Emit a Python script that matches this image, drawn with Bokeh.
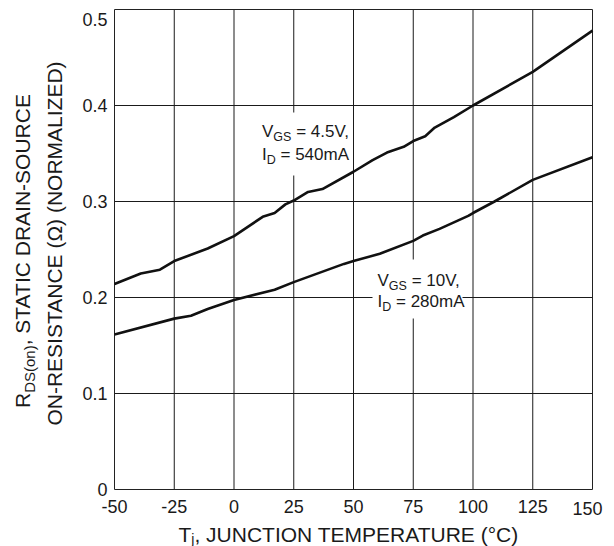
from bokeh.plotting import figure
from bokeh.models import Label, FixedTicker, Range1d
from bokeh.embed import file_html
from bokeh.resources import INLINE

# ---------------- data ----------------
temp_45v = [-50, -39, -31, -25, -11, 0, 12, 17, 21.5, 25, 31, 37, 50, 58, 64, 71, 75, 80, 84, 92, 100, 125, 150]
rds_45v = [0.214, 0.225, 0.229, 0.238, 0.251, 0.264, 0.284, 0.288, 0.297, 0.301, 0.310, 0.313, 0.331,
           0.343, 0.351, 0.357, 0.363, 0.368, 0.377, 0.388, 0.400, 0.435, 0.478]

temp_10v = [-50, -25, -18, -11, 0, 17, 25, 46, 50, 61, 75, 79, 86, 98, 100, 109, 125, 150]
rds_10v = [0.1615, 0.178, 0.181, 0.188, 0.1975, 0.208, 0.216, 0.235, 0.238, 0.2455, 0.259, 0.2645,
           0.2715, 0.285, 0.288, 0.300, 0.3225, 0.346]

x_ticks = [-50, -25, 0, 25, 50, 75, 100, 125, 150]
x_tick_labels = ["-50", "-25", "0", "25", "50", "75", "100", "125", "150"]
y_ticks = [0, 0.1, 0.2, 0.3, 0.4, 0.5]
y_tick_labels = ["0", "0.1", "0.2", "0.3", "0.4", "0.5"]

# ---------------- layout ----------------
W, H = 614, 546
FL, FR, FT, FB = 114, 592, 9, 489   # data-area edges in canvas pixels
X0, X1, Y0, Y1 = x_ticks[0], x_ticks[-1], y_ticks[0], y_ticks[-1]
KX = (FR - FL) / (X1 - X0)
KY = (FB - FT) / (Y1 - Y0)
FONT = "Liberation Sans"
TXT = "#1a1a1a"
BASE_FIX = 0.29   # label baseline correction, in em


def dx(px):
    return X0 + (px - FL) / KX


def dy(py):
    return Y1 - (py - FT) / KY


AW = {' ': 278, '(': 333, ')': 333, ',': 278, '-': 333, '.': 278, '=': 584, '°': 400,
      'A': 667, 'C': 722, 'D': 722, 'E': 667, 'G': 778, 'I': 278, 'J': 500, 'L': 556,
      'M': 833, 'N': 722, 'O': 778, 'P': 667, 'R': 722, 'S': 667, 'T': 611, 'U': 722,
      'V': 667, 'Z': 611, 'a': 556, 'j': 222, 'm': 833, 'n': 556, 'o': 556, 'Ω': 768}


def tw(s, size):
    return sum(AW.get(c, 556) for c in s) / 1000.0 * size


p = figure(width=W, height=H,
           x_range=Range1d(dx(0), dx(W)), y_range=Range1d(dy(H), dy(0)),
           toolbar_location=None, output_backend="svg",
           min_border_left=0, min_border_right=0, min_border_top=0, min_border_bottom=0)
p.background_fill_color = "white"
p.border_fill_color = "white"
p.outline_line_color = None
p.xgrid.visible = False
p.ygrid.visible = False

for ax in (p.xaxis, p.yaxis):
    ax.axis_line_color = None
    ax.major_tick_line_color = None
    ax.minor_tick_line_color = None
    ax.major_tick_out = 0
    ax.major_tick_in = 0
    ax.minor_tick_out = 0
    ax.major_label_text_font = FONT
    ax.major_label_text_font_size = "18px"
    ax.major_label_text_color = TXT

p.xaxis.fixed_location = Y0
p.yaxis.fixed_location = X0
p.xaxis.major_label_standoff = 10
p.yaxis.major_label_standoff = 7
p.xaxis.ticker = FixedTicker(ticks=x_ticks[:-1])
p.xaxis.major_label_overrides = {t: l for t, l in zip(x_ticks[:-1], x_tick_labels[:-1])}
p.yaxis.ticker = FixedTicker(ticks=y_ticks[:-1])
p.yaxis.major_label_overrides = {t: l for t, l in zip(y_ticks[:-1], y_tick_labels[:-1])}

# grid lines (inside the data area only)
gx = x_ticks[1:-1]
gy = y_ticks[1:-1]
p.segment(x0=gx, y0=[Y0] * len(gx), x1=gx, y1=[Y1] * len(gx), line_color="#1a1a1a", line_width=1)
p.segment(x0=[X0] * len(gy), y0=gy, x1=[X1] * len(gy), y1=gy, line_color="#1a1a1a", line_width=1)

# white boxes behind the annotations (interrupt the grid there)
boxes = [(258, 350, 112, 175), (372, 462, 259, 318)]
p.quad(left=[dx(b[0]) for b in boxes], right=[dx(b[1]) for b in boxes],
       top=[dy(b[2]) for b in boxes], bottom=[dy(b[3]) for b in boxes],
       fill_color="white", line_color=None)

# frame
p.quad(left=[X0], right=[X1], bottom=[Y0], top=[Y1], fill_color=None,
       line_color="#222222", line_width=1)

p.line(temp_45v, rds_45v, line_color="#111111", line_width=2.6)
p.line(temp_10v, rds_10v, line_color="#111111", line_width=2.6)


def label(text, px, py, size, align="left", angle=0.0):
    fix = BASE_FIX * size
    if angle == 0:
        py -= fix
    else:
        px -= fix
    p.add_layout(Label(x=dx(px), y=dy(py), text=text, angle=angle,
                       text_font=FONT, text_font_size=f"{size}px", text_color=TXT,
                       text_align=align, text_baseline="alphabetic"))


def rich(parts, x_px, y_px, angle=0.0, align="left"):
    total = sum(tw(t, s) for t, s, _ in parts)
    cum = -total / 2 if align == "center" else 0.0
    for text, size, shift in parts:
        stripped = text.lstrip(" ")
        cum += tw(text[:len(text) - len(stripped)], size)
        if angle == 0:
            px, py = x_px + cum, y_px + shift
        else:
            px, py = x_px + shift, y_px - cum
        label(stripped, px, py, size, angle=angle)
        cum += tw(stripped, size)


# end tick labels placed like the reference
label(y_tick_labels[-1], 107, 24, 18, align="right")
label(x_tick_labels[-1], 587, 513, 18, align="center")

# curve annotations
rich([("V", 17, 0), ("GS", 12.5, 4.5), (" = 4.5V,", 17, 0)], 261.5, 136)
rich([("I", 17, 0), ("D", 12.5, 4.5), (" = 540mA", 17, 0)], 261.5, 159)
rich([("V", 17, 0), ("GS", 12.5, 4.5), (" = 10V,", 17, 0)], 377, 285)
rich([("I", 17, 0), ("D", 12.5, 4.5), (" = 280mA", 17, 0)], 377, 306)

# axis titles
rich([("T", 21, 0), ("j", 14, 3), (", JUNCTION TEMPERATURE (°C)", 21, 0)], 178, 540)
rich([("R", 21, 0), ("DS(on)", 15, 5), (", STATIC DRAIN-SOURCE", 21, 0)], 28, 249,
     angle=1.5707963267948966, align="center")
rich([("ON-RESISTANCE (Ω) (NORMALIZED)", 21, 0)], 60, 242,
     angle=1.5707963267948966, align="center")

open("out.html", "w").write(file_html(p, INLINE))
